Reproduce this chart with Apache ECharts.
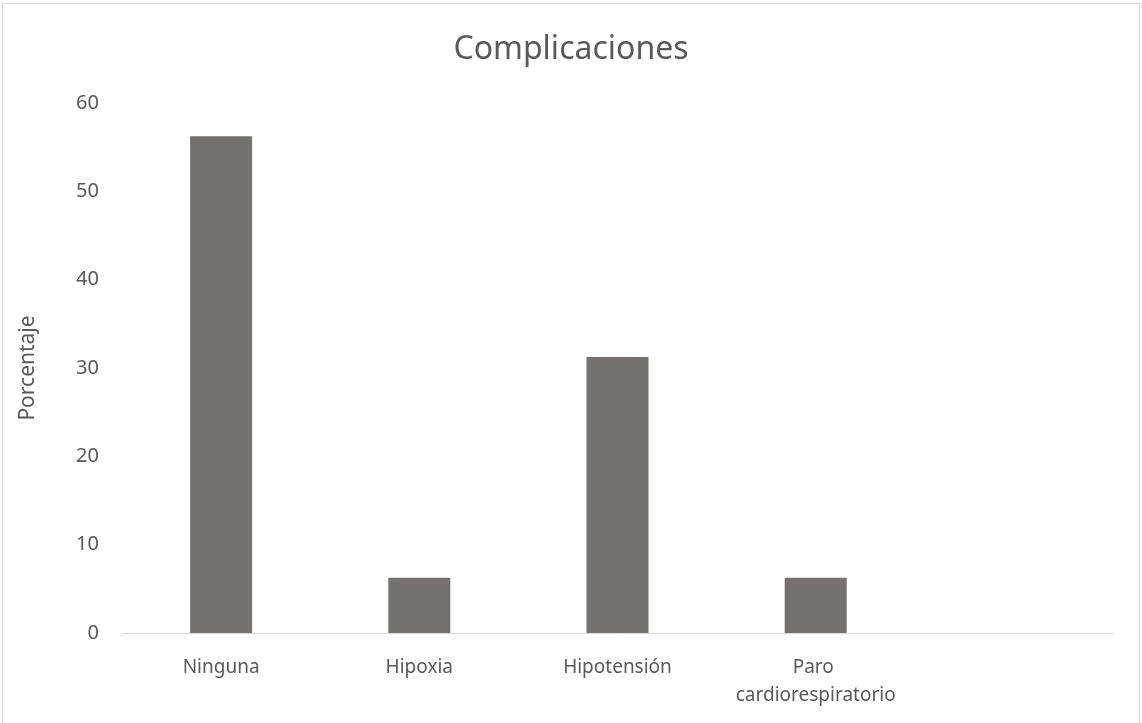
<!DOCTYPE html>
<html>
<head>
<meta charset="utf-8">
<script src="https://cdn.jsdelivr.net/npm/echarts@6/dist/echarts.min.js"></script>
<style>
  html, body { margin: 0; padding: 0; background: #fff; }
  #frame { position: absolute; left: 2px; top: 3px; width: 1138px; height: 722px; border: 1px solid #d9d9d9; box-sizing: border-box; border-bottom: none; }
  #chart { width: 1142px; height: 723px; }
</style>
</head>
<body>
<div id="frame"></div>
<div id="chart"></div>
<script>
// Complications reported, as a percentage of patients
const categories = ['Ninguna', 'Hipoxia', 'Hipotensión', 'Paro cardiorespiratorio', ''];
const porcentaje = [56.25, 6.25, 31.25, 6.25, null];
const yTicks = { min: 0, max: 60, interval: 10 };

const textColor = '#595959';
const fontFamily = '"Noto Sans", "Open Sans", sans-serif';

const chart = echarts.init(document.getElementById('chart'), null, { renderer: 'canvas' });
chart.setOption({
  backgroundColor: 'transparent',
  animation: false,
  title: {
    text: 'Complicaciones',
    left: 'center',
    top: 29,
    textStyle: { color: textColor, fontSize: 32, fontWeight: 'normal', fontFamily }
  },
  grid: { left: 122, right: 29, top: 103, bottom: 90 },
  xAxis: {
    type: 'category',
    data: categories,
    axisTick: { show: false },
    axisLine: { lineStyle: { color: '#d9d9d9', width: 1 } },
    axisLabel: {
      color: textColor, fontSize: 19, fontFamily, margin: 21,
      width: 190, overflow: 'break', lineHeight: 28, interval: 0
    }
  },
  yAxis: {
    type: 'value',
    min: yTicks.min, max: yTicks.max, interval: yTicks.interval,
    name: 'Porcentaje',
    nameLocation: 'middle',
    nameGap: 83,
    nameTextStyle: { color: textColor, fontSize: 21, fontFamily },
    splitLine: { show: false },
    axisLine: { show: false },
    axisTick: { show: false },
    axisLabel: { color: textColor, fontSize: 20, fontFamily, margin: 23 }
  },
  series: [{
    type: 'bar',
    data: porcentaje,
    barWidth: 62,
    itemStyle: { color: '#757171' }
  }]
});
</script>
</body>
</html>
